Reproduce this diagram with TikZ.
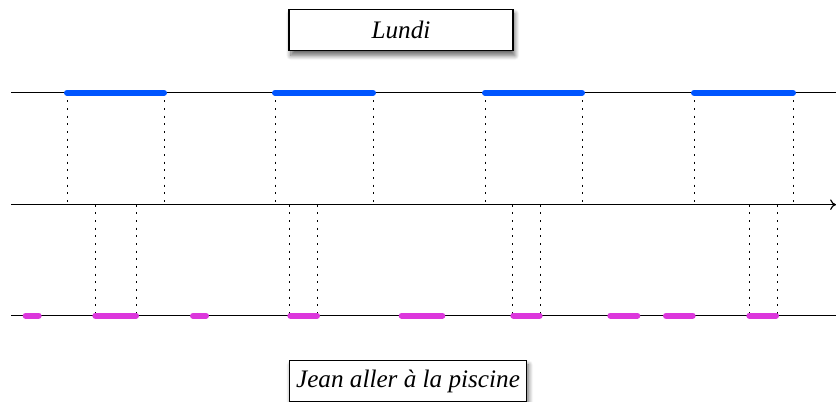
\documentclass[tikz,border=0pt]{standalone}
\usepackage{fontspec}
\setmainfont{Liberation Serif}
\usetikzlibrary{shadows.blur,arrows.meta}
\definecolor{bleu}{RGB}{0,85,255}
\definecolor{rose}{RGB}{220,55,220}
\begin{document}
\begin{tikzpicture}[
  titre/.style={draw,line width=.9pt,fill=white,minimum height=1.25cm,
    font=\fontsize{21.5}{25}\selectfont\itshape,
    blur shadow={shadow xshift=1.5pt,shadow yshift=-4pt,shadow blur radius=4pt,
      shadow opacity=60,shadow blur steps=10}},
  axe/.style={line width=1pt},
  pointille/.style={line width=.8pt,dash pattern=on 1.7pt off 4.85pt},
  barre/.style={line width=5.1pt,line cap=round}]
\useasboundingbox (0,0) rectangle (25.08,12.03);
% titres
\node[titre,minimum width=6.72cm] (lundi) at(12.03,11.13) {Lundi};
\node[titre,minimum width=7.12cm] (piscine) at(12.24,0.6) {Jean aller à la piscine};
% lignes
\coordinate (h1) at(.33,9.25);
\coordinate (h2) at(25.08,9.25);
\coordinate (m1) at(.33,5.89);
\coordinate (m2) at(25.08,5.89);
\coordinate (b1) at(.33,2.56);
\coordinate (b2) at(25.08,2.56);
\foreach \x in {2.01,4.92,8.25,11.19,14.55,17.46,20.82,23.79}
  \draw[pointille] (\x,9.25) -- (\x,5.89);
\foreach \x in {2.85,4.10,8.69,9.52,15.38,16.21,22.48,23.31}
  \draw[pointille] (\x,5.89) -- (\x,2.56);
\draw[axe] (h1) -- (h2);
\draw[axe,-{To[length=5pt,width=9pt]}] (m1) -- (m2);
\draw[axe] (b1) -- (b2);
% intervalles
\foreach \a/\b in {2.01/4.92,8.25/11.19,14.55/17.46,20.82/23.79}
  \draw[barre,bleu] (\a,9.25) -- (\b,9.25);
\foreach \a/\b in {0.77/1.16,2.86/4.08,5.79/6.18,8.71/9.51,12.05/13.27,15.40/16.19,18.31/19.12,19.98/20.78,22.48/23.28}
  \draw[barre,rose] (\a,2.56) -- (\b,2.56);
\end{tikzpicture}
\end{document}
